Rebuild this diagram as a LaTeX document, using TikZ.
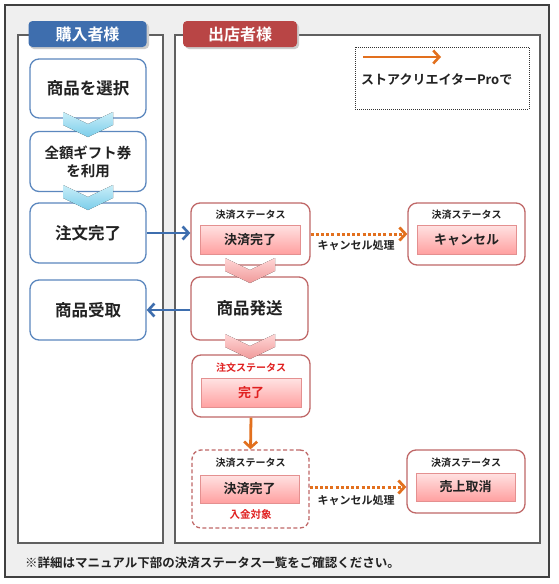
\documentclass[tikz,border=0pt]{standalone}
\usepackage{fontspec}
\setmainfont{Noto Sans CJK JP}[BoldFont={Noto Sans CJK JP Bold}]
\usetikzlibrary{arrows.meta}
\definecolor{bluebd}{HTML}{5B87BE}
\definecolor{bluehd}{HTML}{3E6EAE}
\definecolor{redbd}{HTML}{C06868}
\definecolor{redhd}{HTML}{B94545}
\definecolor{pinkbd}{HTML}{E49090}
\definecolor{pinktop}{HTML}{FFE2E2}
\definecolor{pinkbot}{HTML}{FFA0A0}
\definecolor{orng}{HTML}{E2701E}
\definecolor{txt}{HTML}{222222}
\definecolor{redtxt}{HTML}{E02020}
\definecolor{bgray}{HTML}{EFEFEF}
\definecolor{chvA}{HTML}{C8EEF8}
\definecolor{chvB}{HTML}{7CCDEA}
\definecolor{chpA}{HTML}{FFD6D6}
\definecolor{chpB}{HTML}{F09A9A}
\tikzset{
  lane/.style={draw=gray!75!black, fill=white, line width=1.3pt},
  tab/.style={rounded corners=4pt, text=white, font=\bfseries\fontsize{16}{18}\selectfont, minimum width=118pt, minimum height=26pt, inner sep=0pt},
  bluebox/.style={draw=bluebd, fill=white, rounded corners=9pt, line width=1.3pt, minimum width=116pt, align=center, text=txt, font=\bfseries\fontsize{16.5}{19}\selectfont, inner sep=0pt},
  redbox/.style={draw=redbd, fill=white, rounded corners=9pt, line width=1.3pt, inner sep=0pt, text=txt, font=\bfseries\fontsize{16.5}{18}\selectfont},
  pinkbox/.style={draw=pinkbd, line width=0.6pt, top color=pinktop, bottom color=pinkbot, minimum width=100pt, minimum height=29pt, inner sep=0pt, text=txt, font=\bfseries\fontsize{13}{15}\selectfont},
  smalllbl/.style={text=txt, font=\bfseries\fontsize{10}{12}\selectfont, inner sep=0pt},
  cancellbl/.style={text=txt, font=\bfseries\fontsize{11}{13}\selectfont, inner sep=0pt},
  bluearr/.style={draw=bluehd, line width=2.8pt, -{Straight Barb[length=6pt,width=13pt,line width=2.6pt]}},
  orngarr/.style={draw=orng, line width=3pt, dash pattern=on 3pt off 2.2pt, -{Straight Barb[length=6pt,width=13pt,line width=2.8pt]}},
  orngsolid/.style={draw=orng, line width=2.8pt, -{Straight Barb[length=6pt,width=13pt,line width=2.6pt]}},
  pics/chevb/.style={code={\fill[top color=chvA, bottom color=chvB] (-25,0) -- (0,12) -- (25,0) -- (25,13) -- (0,25) -- (-25,13) -- cycle;}},
  pics/chevp/.style={code={\fill[top color=chpA, bottom color=chpB] (-25,0) -- (0,12) -- (25,0) -- (25,13) -- (0,25) -- (-25,13) -- cycle;}}
}
\begin{document}
\begin{tikzpicture}[x=1pt,y=-1pt]
\useasboundingbox (0,0) rectangle (558,584);
\fill[white] (0,0) rectangle (558,584);
% outer frame
\draw[draw=black!75, fill=bgray, line width=1.3pt] (5,5) rectangle (549,577);
% lanes
\draw[lane] (18,35) rectangle (163,543);
\draw[lane] (175,35) rectangle (540,543);
% tabs
\fill[gray!40, rounded corners=4pt] (30,23) rectangle (149,49);
\node[tab, fill=bluehd] (buyer) at (87.5,34) {購入者様};
\fill[gray!40, rounded corners=4pt] (185,23) rectangle (299,49);
\node[tab, fill=redhd, minimum width=114pt] (seller) at (240,34) {出店者様};
% legend
\node[draw=black!80, dash pattern=on 1pt off 1pt, line width=1pt, fill=white, minimum width=174pt, minimum height=62pt] (legend) at (442,78) {};
\coordinate (lga) at (363,57);
\coordinate (lgb) at (441,57);
\draw[orngsolid] (lga) -- (lgb);
\node[anchor=west, text=txt, font=\bfseries\fontsize{13}{15}\selectfont, inner sep=0pt] (lgtxt) at (361,79) {ストアクリエイターProで};
% left column
\node[bluebox, minimum height=59pt] (b1) at (88,88.5) {商品を選択};
\node[bluebox, minimum height=60pt, font=\bfseries\fontsize{14.5}{18}\selectfont] (b2) at (88,161.5) {全額ギフト券\\を利用};
\node[bluebox, minimum height=60pt] (b3) at (88,233) {注文完了};
\node[bluebox, minimum height=60pt] (b4) at (88,310) {商品受取};
\pic at (88,112) {chevb};
\pic at (88,185) {chevb};
% right column
\node[redbox, minimum width=119pt, minimum height=62pt] (k1) at (250.5,234) {};
\node[smalllbl] (k1l) at (250.5,215) {決済ステータス};
\node[pinkbox] (k1i) at (250,239.5) {決済完了};
\node[redbox, minimum width=117pt, minimum height=62pt] (c1) at (466.5,234) {};
\node[smalllbl] (c1l) at (466.5,215) {決済ステータス};
\node[pinkbox, minimum width=99pt] (c1i) at (466.5,239.5) {キャンセル};
\node[redbox, minimum width=117pt, minimum height=63pt] (ship) at (249.5,308.5) {商品発送};
\node[redbox, minimum width=118pt, minimum height=62pt] (ord) at (251,386) {};
\node[smalllbl, text=redtxt] (ordl) at (251,368) {注文ステータス};
\node[pinkbox, text=redtxt] (ordi) at (251,393) {完了};
\node[redbox, dash pattern=on 4pt off 2.5pt, minimum width=117pt, minimum height=78pt] (k2) at (250.5,489) {};
\node[smalllbl] (k2l) at (250.5,463) {決済ステータス};
\node[pinkbox, minimum width=99pt, minimum height=28pt] (k2i) at (249.5,489) {決済完了};
\node[smalllbl, text=redtxt, font=\bfseries\fontsize{10.5}{12}\selectfont] (k2r) at (250.5,515) {入金対象};
\node[redbox, minimum width=118pt, minimum height=63pt] (t1) at (466,481.5) {};
\node[smalllbl] (t1l) at (466,463) {決済ステータス};
\node[pinkbox, minimum width=99pt, minimum height=28pt] (t1i) at (465.5,487) {売上取消};
\pic at (250,258) {chevp};
\pic at (250,334) {chevp};
% connectors
\draw[bluearr] (b3.east) -- (k1.west |- b3.east);
\draw[bluearr] (ship.west |- b4.east) -- (b4.east);
\draw[orngarr] (k1.east) -- (c1.west);
\node[cancellbl] (cl1) at (356,245) {キャンセル処理};
\draw[orngarr] (k2.east |- t1i.east) -- (t1.west |- t1i.east);
\node[cancellbl] (cl2) at (356,500) {キャンセル処理};
\draw[orngsolid] (ord.south) -- (k2.north);
% footer
\node[anchor=west, text=txt, font=\bfseries\fontsize{12.5}{14}\selectfont, inner sep=0pt] (foot) at (25,563) {※詳細はマニュアル下部の決済ステータス一覧をご確認ください。};
\end{tikzpicture}
\end{document}
